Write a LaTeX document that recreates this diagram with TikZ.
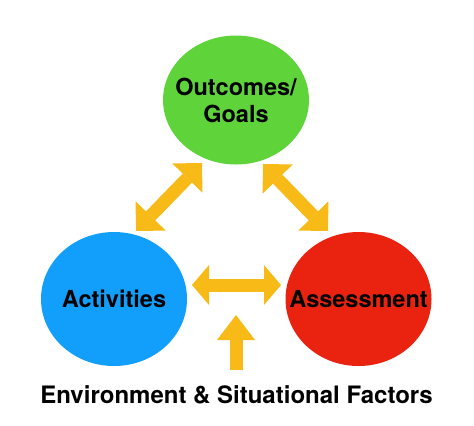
\documentclass[tikz,border=0pt]{standalone}
\usepackage{fontspec}
\setmainfont{TeX Gyre Heros}
\usetikzlibrary{shapes.geometric,arrows.meta}
\definecolor{goalgreen}{RGB}{94,211,58}
\definecolor{actblue}{RGB}{18,159,251}
\definecolor{assred}{RGB}{233,35,16}
\definecolor{linkgold}{RGB}{248,186,22}

\begin{document}
\begin{tikzpicture}[x=1bp,y=-1bp,
    blob/.style={ellipse, inner sep=0pt, minimum width=146bp,
      label={[align=center, font=\fontsize{23.5bp}{27bp}\selectfont\bfseries]center:#1}},
    link/.style={draw=linkgold, line width=13bp},
    diaglink/.style={link,
      {Triangle[length=21bp,width=42bp,line width=0pt]}-{Triangle[length=21bp,width=42bp,line width=0pt]}}]
    \useasboundingbox (0,0) rectangle (474,425) ;
    % the three circles
    \node [blob={Outcomes/\\Goals}, fill=goalgreen, minimum height=129bp] (goals)
      at (236,100) {} ;
    \node [blob=Activities, fill=actblue, minimum height=134bp] (act)
      at (114,299) {} ;
    \node [blob=Assessment, fill=assred, minimum height=134bp] (assess)
      at (358.5,299) {} ;
    \node [font=\fontsize{24bp}{28bp}\selectfont\bfseries] (env) at (236.5,395)
      {Environment \& Situational Factors} ;
    % arrow ends
    \coordinate (actup) at (136,231) ;
    \coordinate (goalsleft) at (202,163) ;
    \coordinate (goalsright) at (263,164) ;
    \coordinate (assup) at (328,231) ;
    \coordinate (actright) at (192,285) ;
    \coordinate (assleft) at (281,285) ;
    \coordinate (envup) at (236,370) ;
    \coordinate (envtip) at (236,315) ;
    \draw [diaglink] (actup) -- (goalsleft) ;
    \draw [diaglink] (goalsright) -- (assup) ;
    \draw [link, {Triangle[length=17bp,width=40bp,line width=0pt]}-{Triangle[length=17bp,width=40bp,line width=0pt]}]
      (actright) -- (assleft) ;
    \draw [link, -{Triangle[length=25bp,width=38bp,line width=0pt]}]
      (envup) -- (envtip) ;
  \end{tikzpicture}
\end{document}
